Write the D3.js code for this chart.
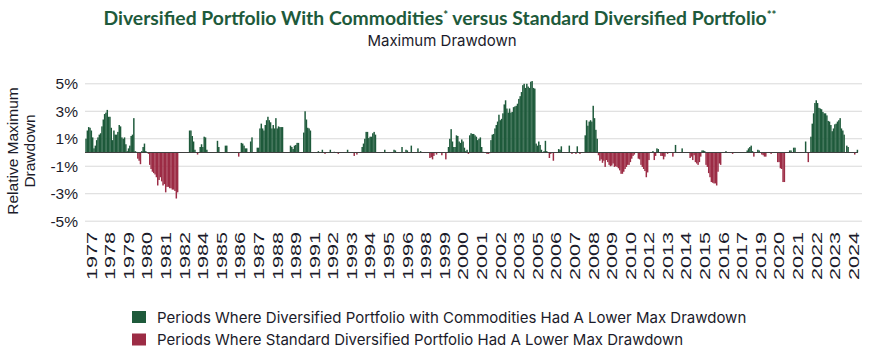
<!DOCTYPE html>
<html>
<head>
<meta charset="utf-8">
<script src="https://cdn.jsdelivr.net/npm/d3@7"></script>
<style>
  body { margin: 0; background: #fff; }
  svg { display: block; font-family: 'Liberation Sans', Arial, sans-serif; }
</style>
</head>
<body>
<svg class="chart" width="880" height="361"></svg>
<script>
// monthly series, first value is Sep 1976
const firstMonth = '1976-09';

// relative max drawdown (%), one row per calendar year
const relDrawdown = [
  1.0, 1.6, 1.85, 1.8,                                                  // 1976 (Sep-Dec)
  1.6, 1.1, 0.3, 0.5, 0.9, 1.1, 1.3, 1.4, 1.9, 2.4, 2.8, 2.9,           // 1977
  3.1, 2.6, 2.6, 1.8, 0.9, 1.6, 1.3, 1.3, 1.5, 2.0, 1.9, 1.1,           // 1978
  1.0, 1.1, 0.6, 0.1, 0.3, 0.5, 1.2, 1.3, 2.5, 0.1, 0.05, -0.45,        // 1979
  -0.6, -0.85, 0.1, 0.4, 0.65, 0.1, 0, -0.1, -0.9, -1.2, -1.4, -1.5,    // 1980
  -1.6, -1.8, -2.4, -2.0, -1.8, -2.1, -2.4, -2.3, -2.9, -2.5, -2.5, -2.6, // 1981
  -2.6, -2.7, -2.7, -2.8, -3.35, -2.9, 0, 0, 0, 0, 0, 0,                // 1982
  0, 0, 1.6, 1.6, 1.2, 0.8, 0.2, 0, -0.15, 0, 0.4, 0.6,                 // 1983
  0.4, 1.15, 1.1, 0.2, 0, 0, 0, 0, 0, 0, 0, 0.85,                       // 1984
  0.4, 0, 0, 0, 0, 0.5, 0.5, 0, 0, 0, 0, 0,                             // 1985
  0, 0, 0, -0.3, 0, 0.7, 0.65, 0.5, 0.3, 0.3, 0, 0,                     // 1986
  0.8, 1.1, 0, 0, 0, 0.35, 0.35, 1.75, 2.1, 1.75, 1.6, 2.0,             // 1987
  2.35, 2.6, 2.35, 2.2, 1.75, 2.0, 1.75, 2.5, 1.75, 1.9, 1.85, 1.85,    // 1988
  1.85, 0, 0, 0, 0, 0, 0.5, 0.4, 0.25, 0.5, 0.55, 0.7,                  // 1989
  0.7, 0, 0, 0, 1.45, 3.0, 2.4, 1.8, 1.75, 1.6, 0, 0,                   // 1990
  0, 0, 0, 0.1, 0, 0, 0.2, 0, -0.1, 0, 0, 0,                            // 1991
  0.2, 0, 0, 0.05, 0, 0, -0.1, 0, 0, 0, 0, 0,                           // 1992
  0, 0.2, 0, 0, 0, 0, -0.25, 0, -0.15, 0, 0, 0,                         // 1993
  0.4, 0.65, 1.0, 1.5, 1.5, 1.05, 1.15, 1.15, 1.4, 1.5, 1.3, 0,         // 1994
  0, 0, 0, 0, 0, 0.2, 0, 0, 0, 0, 0, 0,                                 // 1995
  0.2, 0.15, 0, 0, 0, 0, 0.4, 0, 0, 0.2, 0.15, 0,                       // 1996
  0, 0.5, 0, 0, 0, 0, 0.3, 0, 0.1, 0, 0, 0,                             // 1997
  0, 0, 0, -0.4, -0.35, -0.5, -0.25, 0, -0.15, 0, 0, 0,                 // 1998
  -0.2, 0, 0, -0.5, 0, 0.4, 1.0, 1.7, 0.8, 0.4, 0.4, 1.25,              // 1999
  1.2, 0.8, 0.7, 0.95, 0.8, 0.35, 0.1, 0.2, -0.1, 1.25, 1.4, 1.35,      // 2000
  1.35, 1.25, 1.15, 0.9, 1.0, 1.1, 0.4, 0.05, 0, 0, -0.1, -0.1,         // 2001
  -0.05, 0.9, 1.3, 1.35, 1.75, 2.0, 2.25, 2.75, 2.35, 2.45, 2.85, 3.5,  // 2002
  3.8, 3.2, 2.9, 3.2, 2.9, 2.95, 3.3, 3.35, 3.4, 3.55, 3.9, 4.1,        // 2003
  4.4, 4.9, 5.0, 4.7, 5.0, 4.8, 4.7, 5.15, 5.2, 4.7, 4.65, 0.65,        // 2004
  0.5, 0.8, 0.55, 0.2, 0, 0.1, 0.85, 0.1, 0, -0.4, -0.1, 0,             // 2005
  -0.6, 0, 0, 0, 0.25, 0.2, 0.45, 0, 0, 0, 0, 0,                        // 2006
  0.5, 0, -0.1, 0, 0, -0.1, 0.45, 0, -0.1, 0, 0, 0,                     // 2007
  1.25, 2.35, 1.95, 2.25, 2.35, 2.25, 3.4, 2.5, 1.65, 1.0, -0.2, -0.6,  // 2008
  -0.5, -0.75, -0.6, -1.05, -0.55, -0.7, -0.9, -1.0, -0.95, -0.8, -1.05, -1.0, // 2009
  -1.05, -1.15, -1.3, -1.55, -1.55, -1.4, -1.2, -1.05, -0.9, -0.9, -0.7, -0.45, // 2010
  -0.25, -0.15, 0, 0, -0.45, -0.5, -0.9, -1.05, -1.2, -1.35, -1.8, -1.45, // 2011
  -0.55, 0, 0, 0.1, -0.55, -0.25, 0.3, 0.25, 0, -0.25, -0.25, -0.5,     // 2012
  -0.3, 0, -0.1, 0, 0, 0, -0.3, 0, 0.55, 0, 0, 0,                       // 2013
  0, 0.3, 0, 0, 0, 0, 0, -0.4, -0.3, -0.55, -0.2, -0.7,                 // 2014
  -0.8, -0.9, -0.7, -0.3, 0.15, 0.15, 0.1, -0.9, -1.05, -1.5, -1.8, -2.15, // 2015
  -2.2, -2.25, -2.25, -2.4, -1.4, -0.8, -0.9, 0, 0, 0, 0.1, 0,          // 2016
  0, 0, 0, -0.1, 0, 0, 0, 0, 0, 0, 0, 0,                                // 2017
  0, 0, 0.15, 0.3, 0.4, 0.5, 0.1, -0.3, 0, 0, 0.2, 0.15,                // 2018
  0, -0.15, -0.2, -0.3, -0.3, 0, 0, 0, -0.1, 0, 0, 0,                   // 2019
  0, -0.7, -0.7, -1.15, -1.2, -2.15, -2.15, 0, 0, 0, 0.15, 0.15,        // 2020
  0, 0.35, 0.35, 0, 0, 0, 0, 0, 0, 0, 0.8, 0,                           // 2021
  -0.7, 0, 1.15, 2.1, 2.85, 3.6, 3.8, 3.6, 3.25, 3.2, 3.15, 2.95,       // 2022
  2.85, 2.85, 2.7, 2.3, 2.25, 2.0, 1.55, 1.75, 2.05, 2.1, 2.25, 2.35,   // 2023
  2.5, 1.75, 1.6, 1.3, 0, 0.5, 0.4, 0, 0, 0, 0, -0.15,                  // 2024
  0, 0.2                                                                // 2025
];

const yTicks = [5, 3, 1, -1, -3, -5];

// Excel shows a label every 14th month, starting at Jan 1977
const tickYears = [1977, 1978, 1979, 1980, 1981, 1982, 1984, 1985, 1986, 1987, 1988, 1989,
  1991, 1992, 1993, 1994, 1995, 1996, 1998, 1999, 2000, 2001, 2002, 2003,
  2005, 2006, 2007, 2008, 2009, 2010, 2012, 2013, 2014, 2015, 2016, 2017,
  2019, 2020, 2021, 2022, 2023, 2024];
const firstTickIndex = 4;
const tickStep = 14;

const legendLabels = [
  'Periods Where Diversified Portfolio with Commodities Had A Lower Max Drawdown',
  'Periods Where Standard Diversified Portfolio Had A Lower Max Drawdown'
];

const green = '#1e5a3b', red = '#9c2c45', ink = '#1b1b2a';

window.onload = function() {
  let svg = d3.select('.chart');
  let start = d3.timeParse('%Y-%m')(firstMonth);
  let data = relDrawdown.map(function(v, i) {
    return { index: i, month: d3.timeMonth.offset(start, i), value: v };
  });

  let x = d3.scaleBand().domain(data.map(d => d.index)).range([85.3, 858]);
  let y = d3.scaleLinear().domain([-5, 5]).range([221.2, 83.8]);

  // title
  let title = svg.append('text')
    .attr('x', 440).attr('y', 25)
    .attr('text-anchor', 'middle')
    .attr('font-family', 'Lato, sans-serif')
    .attr('font-weight', 'bold')
    .attr('font-size', 18.5)
    .attr('fill', green)
    .attr('textLength', 673)
    .attr('lengthAdjust', 'spacingAndGlyphs');
  title.append('tspan').text('Diversified Portfolio With Commodities');
  title.append('tspan').text('*').attr('font-size', 11).attr('dy', -6);
  title.append('tspan').text(' versus Standard Diversified Portfolio').attr('dy', 6);
  title.append('tspan').text('**').attr('font-size', 11).attr('dy', -6);

  svg.append('text')
    .attr('x', 442).attr('y', 46)
    .attr('text-anchor', 'middle')
    .attr('font-family', 'Inter, sans-serif')
    .attr('font-size', 15)
    .attr('fill', ink)
    .text('Maximum Drawdown');

  // gridlines
  svg.selectAll('line.grid').data(yTicks).enter().append('line')
    .attr('class', 'grid')
    .attr('x1', 85).attr('x2', 862)
    .attr('y1', d => y(d)).attr('y2', d => y(d))
    .attr('stroke', '#d9d9d9').attr('stroke-width', 1);

  svg.selectAll('text.ytick').data(yTicks).enter().append('text')
    .attr('class', 'ytick')
    .attr('x', 78).attr('y', d => y(d))
    .attr('dy', '0.35em')
    .attr('text-anchor', 'end')
    .attr('font-size', 15.5)
    .attr('fill', ink)
    .text(d => d + '%');

  // y axis title, two lines
  svg.selectAll('text.ytitle').data(['Relative Maximum', 'Drawdown']).enter().append('text')
    .attr('class', 'ytitle')
    .attr('transform', function(d, i) { return 'translate(' + (18 + i * 17) + ',151) rotate(-90)'; })
    .attr('text-anchor', 'middle')
    .attr('font-size', 15.5)
    .attr('fill', ink)
    .text(d => d);

  // bars
  svg.selectAll('rect.bar').data(data).enter().append('rect')
    .attr('class', 'bar')
    .attr('x', d => x(d.index))
    .attr('width', x.bandwidth() + 0.15)
    .attr('y', d => y(Math.max(0, d.value)))
    .attr('height', d => Math.abs(y(d.value) - y(0)))
    .attr('fill', d => d.value >= 0 ? green : red);

  // zero line
  svg.append('line')
    .attr('x1', 85).attr('x2', 858)
    .attr('y1', y(0)).attr('y2', y(0))
    .attr('stroke', '#404040').attr('stroke-width', 1);

  // x labels
  svg.selectAll('text.xtick').data(tickYears).enter().append('text')
    .attr('class', 'xtick')
    .attr('transform', function(d, k) {
      let i = firstTickIndex + k * tickStep;
      return 'translate(' + (x(i) + x.step() / 2) + ',232) rotate(-90)';
    })
    .attr('dy', '0.36em')
    .attr('text-anchor', 'end')
    .attr('font-size', 15)
    .attr('textLength', 48)
    .attr('lengthAdjust', 'spacingAndGlyphs')
    .attr('fill', ink)
    .text(d => d);

  // legend
  let legend = svg.selectAll('g.legend').data(legendLabels).enter().append('g')
    .attr('class', 'legend')
    .attr('transform', (d, i) => 'translate(132,' + (311 + i * 22.5) + ')');
  legend.append('rect')
    .attr('width', 14).attr('height', 12)
    .attr('fill', (d, i) => i ? red : green);
  legend.append('text')
    .attr('x', 25).attr('y', 11.5)
    .attr('font-family', 'Inter, sans-serif')
    .attr('font-size', 15)
    .attr('fill', ink)
    .text(d => d);
};
</script>
</body>
</html>
